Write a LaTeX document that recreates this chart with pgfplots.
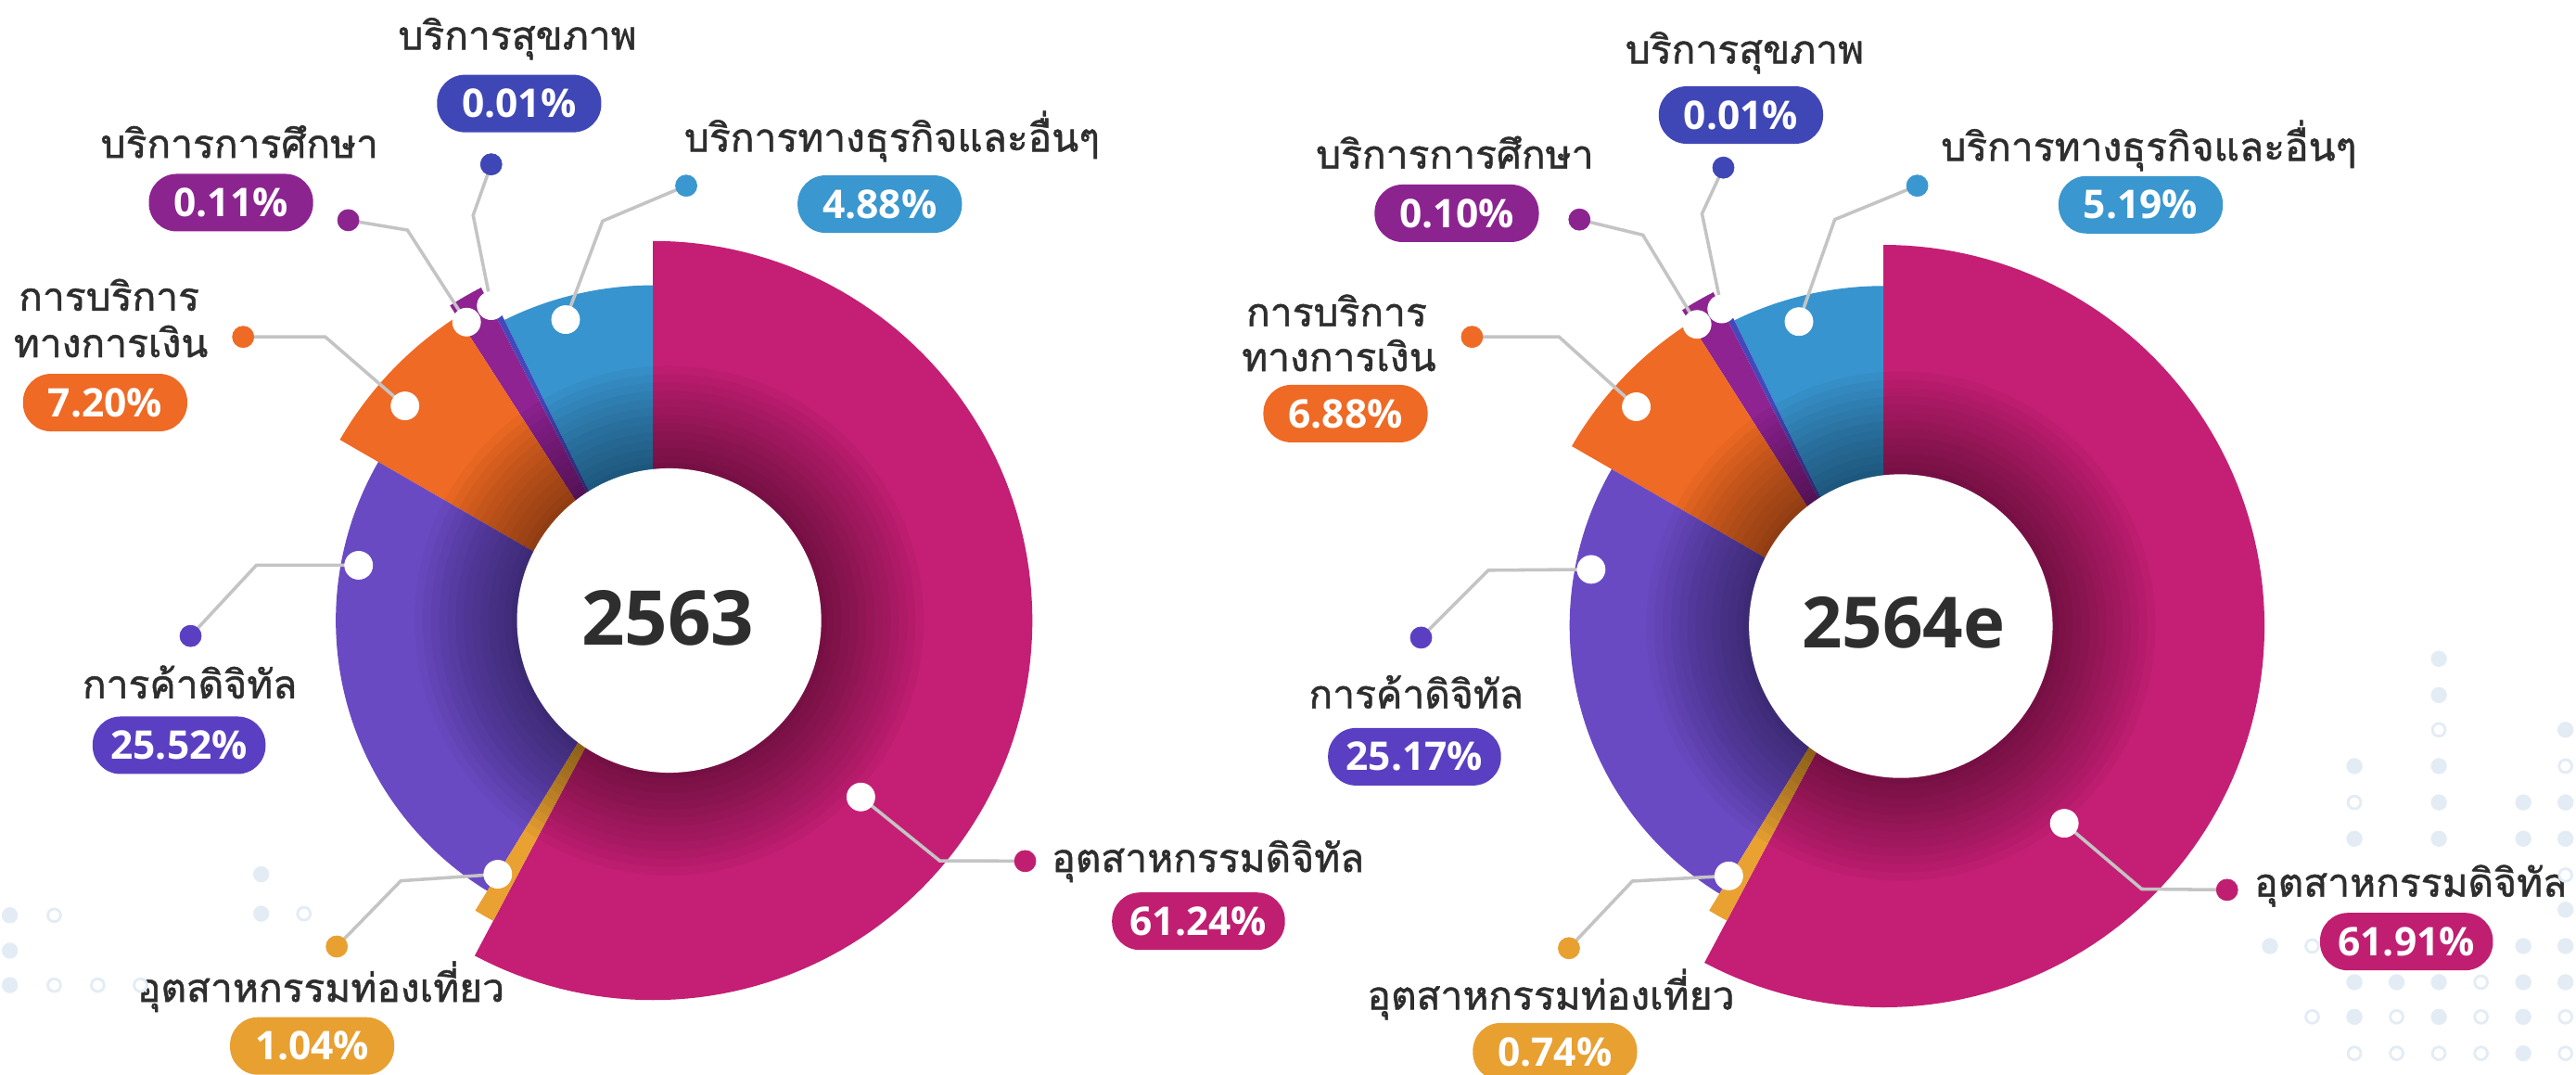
\documentclass[border=0pt]{standalone}
\usepackage{pgfplots}
\pgfplotsset{compat=1.18}
\usepackage{fontspec}
\setmainfont{Open Sans}
\newfontfamily\thaifont[Script=Thai, FakeBold=1.2]{Loma}
\IfFontExistsTF{Open Sans Bold}{\newfontfamily\numfont{Open Sans Bold}}{%
  \IfFontExistsTF{Lato Bold}{\newfontfamily\numfont{Lato Bold}}{\newfontfamily\numfont{Liberation Sans Bold}}}

\definecolor{cPink}{HTML}{C41F74}
\definecolor{cBlue}{HTML}{3794CE}
\definecolor{cOrange}{HTML}{EF6A24}
\definecolor{cEdu}{HTML}{8E2391}
\definecolor{cHealth}{HTML}{4349BA}
\definecolor{cTrade}{HTML}{6A4AC3}
\definecolor{cTour}{HTML}{E9A131}
\definecolor{pPink}{HTML}{C01F71}
\definecolor{pBlue}{HTML}{3A97CF}
\definecolor{pOrange}{HTML}{EE6A25}
\definecolor{pEdu}{HTML}{8C2490}
\definecolor{pHealth}{HTML}{3F47B6}
\definecolor{pTrade}{HTML}{5B3FC2}
\definecolor{pTour}{HTML}{E8A031}
\definecolor{cLine}{HTML}{C4C4C4}
\definecolor{cText}{HTML}{2E2E2E}
\definecolor{cDeco}{HTML}{E3ECF5}

% slice: centre x, centre y, start angle, end angle, outer radius, colour
\newcommand\slice[6]{%
  \addplot[fill=#6, draw=none, domain=#3:#4, samples=120, variable=\t]
    ({#1+#5*cos(\t)}, {#2-#5*sin(\t)}) -- (axis cs:#1,#2) -- cycle;}
% inner darkening around the hole
\newcommand\darken[2]{%
  \fill[black,fill opacity=0.034] (axis cs:#1,#2) circle[radius=155pt];
  \fill[black,fill opacity=0.034] (axis cs:#1,#2) circle[radius=150pt];
  \fill[black,fill opacity=0.034] (axis cs:#1,#2) circle[radius=145pt];
  \fill[black,fill opacity=0.034] (axis cs:#1,#2) circle[radius=140pt];
  \fill[black,fill opacity=0.034] (axis cs:#1,#2) circle[radius=135pt];
  \fill[black,fill opacity=0.034] (axis cs:#1,#2) circle[radius=130pt];
  \fill[black,fill opacity=0.034] (axis cs:#1,#2) circle[radius=125pt];
  \fill[black,fill opacity=0.034] (axis cs:#1,#2) circle[radius=120pt];
  \fill[black,fill opacity=0.034] (axis cs:#1,#2) circle[radius=115pt];
  \fill[black,fill opacity=0.034] (axis cs:#1,#2) circle[radius=110pt];
  \fill[black,fill opacity=0.034] (axis cs:#1,#2) circle[radius=105pt];
  \fill[black,fill opacity=0.034] (axis cs:#1,#2) circle[radius=100pt];
  \fill[black,fill opacity=0.034] (axis cs:#1,#2) circle[radius=96pt];}
\newcommand\pill[4]{\node[pill=#3] at (axis cs:#1,#2) {#4};}
\newcommand\tlab[3]{\node[tlab] at (axis cs:#1,#2) {#3};}
\newcommand\tipdot[2]{\addplot[color=#1, only marks, mark=*, mark size=6.5pt, mark options={fill=#1, draw=#1}] coordinates {#2};}

\tikzset{
  pill/.style={fill=#1, rounded corners=17pt, minimum height=35pt, minimum width=100pt,
    inner xsep=11pt, inner ysep=0pt, text=white,
    font=\numfont\fontsize{24}{24}\selectfont},
  tlab/.style={anchor=base, inner sep=0pt, text=cText,
    font=\thaifont\fontsize{24}{24}\selectfont},
}

\begin{document}
\begin{tikzpicture}
\useasboundingbox (0,0) rectangle (1568pt,654pt);
\begin{axis}[
  at={(0,0)}, anchor=south west,
  scale only axis, width=1568pt, height=654pt,
  xmin=0, xmax=1568, ymin=0, ymax=654, y dir=reverse,
  hide axis, clip=false,
]
% ---------- background decoration ----------
\addplot[color=cDeco, only marks, mark=*, mark size=4.7pt, mark options={fill=cDeco, draw=cDeco}] coordinates {
 (1484.5,400.9) (1484.5,423) (1561.6,444.1) (1433.1,466.2) (1484.5,466.2)
 (1484.5,488.3) (1535.9,488.3) (1561.6,488.3)
 (1433.1,510.4) (1484.5,510.4) (1535.9,510.4) (1561.6,510.4)
 (1561.6,553.6)
 (1381.7,575.7) (1535.9,575.7) (1561.6,575.7)
 (1433.1,597.7) (1458.8,597.7) (1484.5,597.7) (1535.9,597.7) (1561.6,597.7)
 (1433.1,618.8) (1484.5,618.8) (1535.9,618.8) (1535.9,641)
 (6,557) (6,578.5) (6,599.5) (159,532) (159,556)};
\addplot[color=cDeco, only marks, mark=*, mark size=3.9pt, mark options={fill=white, draw=cDeco, line width=1.6pt}] coordinates {
 (1484.5,444.1) (1561.6,466.2) (1433.1,488.3)
 (1561.6,532.5)
 (1407.4,575.7) (1510.2,597.7)
 (1407.4,618.8) (1458.8,618.8) (1510.2,618.8) (1561.6,618.8)
 (1433.1,641) (1458.8,641) (1484.5,641) (1510.2,641) (1561.6,641)
 (33,557) (33,599.5) (59.5,599.5) (85.5,599.5) (185,556)};

% ================= chart 2563 =================
\slice{397.4}{377.6}{-118}{90}{231}{cPink}     % 61.24
\slice{397.4}{377.6}{90}{116.3}{204}{cBlue}    % 4.88
\slice{397.4}{377.6}{116.3}{117.3}{212}{cHealth} % 0.01
\slice{397.4}{377.6}{117.3}{122.8}{228}{cEdu}  % 0.11
\slice{397.4}{377.6}{122.8}{150}{220}{cOrange} % 7.20
\slice{397.4}{377.6}{150}{238.5}{193}{cTrade}  % 25.52
\slice{397.4}{377.6}{238.5}{242}{207}{cTour}   % 1.04
\darken{407.3}{377.6}
\fill[white] (axis cs:407.3,377.6) circle[radius=92.6pt];
\node[text=cText, font=\numfont\fontsize{46}{46}\selectfont] at (axis cs:406.5,376) {2563};

% ================= chart 2564e =================
\slice{1146.4}{381}{-118}{90}{232}{cPink}      % 61.91
\slice{1146.4}{381}{90}{116}{207}{cBlue}       % 5.19
\slice{1146.4}{381}{116}{117}{212}{cHealth}    % 0.01
\slice{1146.4}{381}{117}{122.5}{228}{cEdu}     % 0.10
\slice{1146.4}{381}{122.5}{150}{219}{cOrange}  % 6.88
\slice{1146.4}{381}{150}{238.5}{191}{cTrade}   % 25.17
\slice{1146.4}{381}{238.5}{242}{203}{cTour}    % 0.74
\darken{1157}{381}
\fill[white] (axis cs:1157,381) circle[radius=92.4pt];
\node[text=cText, font=\numfont\fontsize{43}{43}\selectfont] at (axis cs:1158.5,379) {2564e};

% ---------- leader lines ----------
\addplot[cLine, line width=2pt] coordinates {(299,186) (288,131) (299,100)};
\addplot[cLine, line width=2pt] coordinates {(284,196) (248,140) (212,134)};
\addplot[cLine, line width=2pt] coordinates {(246.5,247) (198,205) (148,205)};
\addplot[cLine, line width=2pt] coordinates {(218.3,344) (156,344) (116,387)};
\addplot[cLine, line width=2pt] coordinates {(303,532) (244,536) (205,576)};
\addplot[cLine, line width=2pt] coordinates {(344.3,194.5) (366.8,134.5) (417.7,113)};
\addplot[cLine, line width=2pt] coordinates {(524,485) (572,523.8) (624,524)};
\addplot[cLine, line width=2pt] coordinates {(1048,188) (1036,130) (1049,102)};
\addplot[cLine, line width=2pt] coordinates {(1033,197.4) (1000,143) (961.4,133.6)};
\addplot[cLine, line width=2pt] coordinates {(996,247.5) (949,205) (896,205)};
\addplot[cLine, line width=2pt] coordinates {(968.5,346.5) (906,347) (865,388)};
\addplot[cLine, line width=2pt] coordinates {(1052.3,533) (993.6,536.2) (955,577)};
\addplot[cLine, line width=2pt] coordinates {(1095,195.7) (1116.8,133.6) (1167,113)};
\addplot[cLine, line width=2pt] coordinates {(1256.5,501) (1303.6,541) (1355.6,541.5)};
% white anchor dots
\addplot[color=white, only marks, mark=*, mark size=8.5pt, mark options={fill=white, draw=white}] coordinates {
 (299,186) (284,196) (246.5,247) (218.3,344) (303,532) (344.3,194.5) (524,485)
 (1048,188) (1033,197.4) (996,247.5) (968.5,346.5) (1052.3,533) (1095,195.7) (1256.5,501)};
% coloured end dots
\tipdot{pHealth}{(299,100) (1049,102)}
\tipdot{pEdu}{(212,134) (961.4,133.6)}
\tipdot{pOrange}{(148,205) (896,205)}
\tipdot{pTrade}{(116,387) (865,388)}
\tipdot{pTour}{(205,576) (955,577)}
\tipdot{pBlue}{(417.7,113) (1167,113)}
\tipdot{pPink}{(624,524) (1355.6,541.5)}

% ---------- labels 2563 ----------
\tlab{315}{30.1}{บริการสุขภาพ}
\pill{316}{63}{pHealth}{0.01\%}
\tlab{145.8}{96}{บริการการศึกษา}
\pill{140.6}{123.3}{pEdu}{0.11\%}
\tlab{543}{92.2}{บริการทางธุรกิจและอื่นๆ}
\pill{535.5}{124.2}{pBlue}{4.88\%}
\tlab{66.4}{189}{การบริการ}
\tlab{67.5}{217.3}{ทางการเงิน}
\pill{64}{245}{pOrange}{7.20\%}
\tlab{115.5}{425}{การค้าดิจิทัล}
\pill{109}{453.5}{pTrade}{25.52\%}
\tlab{195.3}{609.6}{อุตสาหกรรมท่องเที่ยว}
\pill{190}{636.5}{pTour}{1.04\%}
\node[tlab, anchor=base west] at (axis cs:640,530.6) {อุตสาหกรรมดิจิทัล};
\pill{729.5}{560.6}{pPink}{61.24\%}

% ---------- labels 2564e ----------
\tlab{1062}{38.6}{บริการสุขภาพ}
\pill{1059.7}{70}{pHealth}{0.01\%}
\tlab{885.5}{102.5}{บริการการศึกษา}
\pill{886.7}{129.8}{pEdu}{0.10\%}
\tlab{1308}{97.8}{บริการทางธุรกิจและอื่นๆ}
\pill{1303}{124.6}{pBlue}{5.19\%}
\tlab{813.6}{198.5}{การบริการ}
\tlab{815}{225.8}{ทางการเงิน}
\pill{819}{251.7}{pOrange}{6.88\%}
\tlab{862}{431}{การค้าดิจิทัล}
\pill{861}{460.5}{pTrade}{25.17\%}
\tlab{944}{614.3}{อุตสาหกรรมท่องเที่ยว}
\pill{946.5}{640}{pTour}{0.74\%}
\node[tlab, anchor=base west] at (axis cs:1372,545.6) {อุตสาหกรรมดิจิทัล};
\pill{1464.8}{573}{pPink}{61.91\%}
\end{axis}
\end{tikzpicture}
\end{document}
